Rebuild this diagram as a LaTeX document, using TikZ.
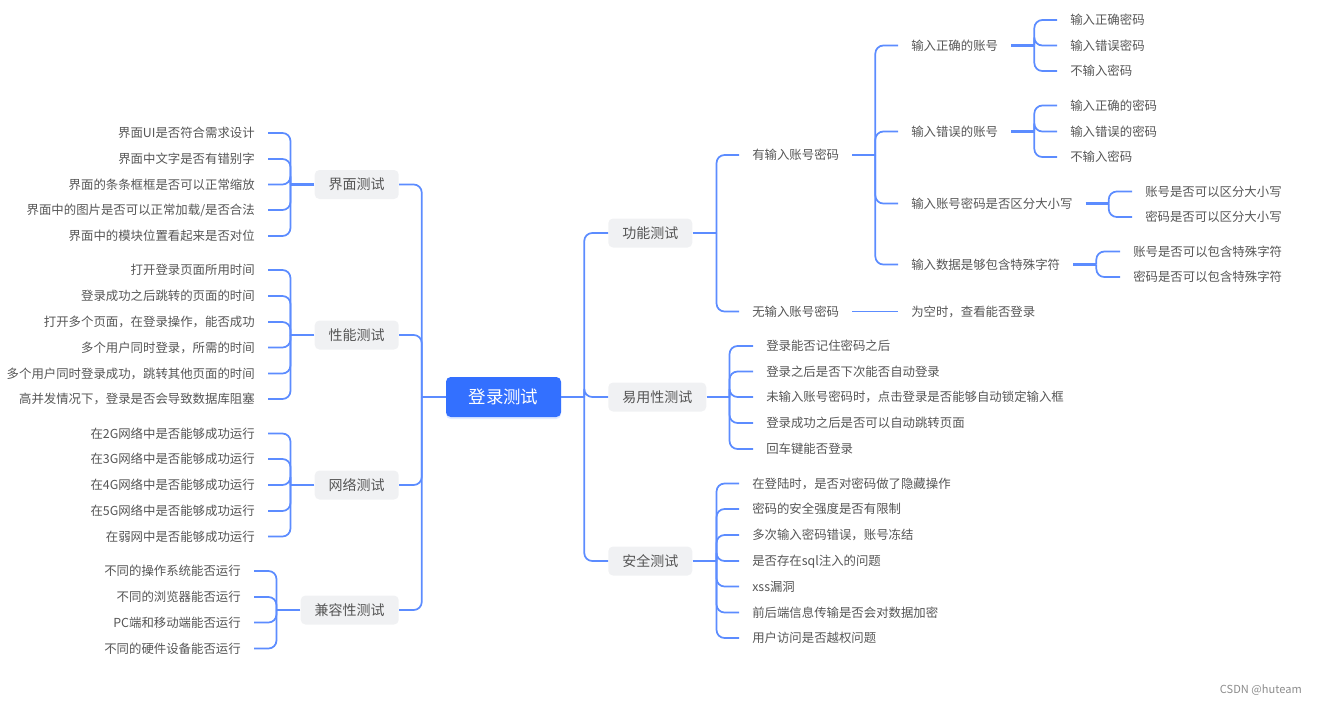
\documentclass[tikz,border=0pt]{standalone}
\usepackage{fontspec}
\setmainfont{Noto Sans CJK SC}
\usetikzlibrary{shadows}
\definecolor{line_blue}{HTML}{5C8CFF}
\definecolor{root_blue}{HTML}{3370FF}
\definecolor{topic_gray}{HTML}{F0F1F3}
\definecolor{text_gray}{HTML}{555555}
\tikzset{
        treenode/.style={align=center,text=text_gray,font=\fontsize{9.3pt}{11pt}\selectfont,text height=8.2pt,text depth=1.1pt,inner ysep=1pt},
        % Centre node
        node_root/.style={treenode, rectangle, rounded corners=3.5pt, fill=root_blue, text=white, font=\fontsize{13.1pt}{15pt}\selectfont, text height=11.5pt, text depth=1.6pt, minimum width=86.25pt, minimum height=30pt, drop shadow={shadow xshift=0pt, shadow yshift=-1.5pt, fill=root_blue, opacity=0.15}},
        % Gray topic nodes
        node_topic/.style={treenode, rectangle, rounded corners=3.5pt, fill=topic_gray, font=\fontsize{10.5pt}{13pt}\selectfont, text height=9.2pt, text depth=1.3pt, inner xsep=10.5pt, minimum height=21.75pt},
        % Plain text nodes, the gap is the space a connector stops short of the text
        node_left/.style={treenode, anchor=east, inner xsep=9.75pt},
        node_right/.style={treenode, anchor=west, inner xsep=9.75pt},
        branch/.style={line_blue, line width=1.3pt, rounded corners=6pt},
        stem/.style={line_blue, line width=1.7pt}
}
\newcommand{\branchright}[3]{
        \draw[stem] (#1.east) -- ++(#2,0) coordinate (#1_t);
        \foreach \c in {#3} \draw[branch] (#1_t) |- (\c.west);
}
\newcommand{\branchleft}[3]{
        \draw[stem] (#1.west) -- ++(-#2,0) coordinate (#1_t);
        \foreach \c in {#3} \draw[branch] (#1_t) |- (\c.east);
}
\begin{document}
\begin{tikzpicture}[x=0.75pt,y=-0.75pt]
            \useasboundingbox (0,0) rectangle (1317,704);
            \node[node_root] (root) at (503.5,397) {登录测试};

            % Left side
            \node[node_topic, anchor=east] (ui) at (399,184.5) {界面测试};
            \node[node_topic, anchor=east] (perf) at (399,335) {性能测试};
            \node[node_topic, anchor=east] (net) at (399,485) {网络测试};
            \node[node_topic, anchor=east] (compat) at (399,610) {兼容性测试};

            \foreach \n/\y/\t in {
                ui_a/133/界面UI是否符合需求设计,
                ui_b/159/界面中文字是否有错别字,
                ui_c/184.5/界面的条条框框是否可以正常缩放,
                ui_d/210/{界面中的图片是否可以正常加载/是否合法},
                ui_e/236/界面中的模块位置看起来是否对位,
                perf_a/270/打开登录页面所用时间,
                perf_b/296/登录成功之后跳转的页面的时间,
                perf_c/322/打开多个页面，在登录操作，能否成功,
                perf_d/347.5/多个用户同时登录，所需的时间,
                perf_e/373.5/多个用户同时登录成功，跳转其他页面的时间,
                perf_f/399/高并发情况下，登录是否会导致数据库阻塞,
                net_a/433.5/在2G网络中是否能够成功运行,
                net_b/459/在3G网络中是否能够成功运行,
                net_c/485/在4G网络中是否能够成功运行,
                net_d/511/在5G网络中是否能够成功运行,
                net_e/536.5/在弱网中是否能够成功运行}
                \node[node_left] (\n) at (268,\y) {\t};
            \foreach \n/\y/\t in {
                compat_a/571/不同的操作系统能否运行,
                compat_b/597/不同的浏览器能否运行,
                compat_c/622.5/PC端和移动端能否运行,
                compat_d/648.5/不同的硬件设备能否运行}
                \node[node_left] (\n) at (254,\y) {\t};

            % Right side
            \node[node_topic, anchor=west] (func) at (608,233) {功能测试};
            \node[node_topic, anchor=west] (easy) at (608,397) {易用性测试};
            \node[node_topic, anchor=west] (safe) at (608,561) {安全测试};

            \node[node_right] (has) at (739,155) {有输入账号密码};
            \node[node_right] (none) at (739,311.5) {无输入账号密码};
            \node[node_right] (empty) at (898,311.5) {为空时，查看能否登录};

            \node[node_right] (good) at (898,45.5) {输入正确的账号};
            \node[node_right] (bad) at (898,131.5) {输入错误的账号};
            \node[node_right] (casing) at (898,203.5) {输入账号密码是否区分大小写};
            \node[node_right] (special) at (898,264.5) {输入数据是够包含特殊字符};

            \foreach \n/\y/\t in {
                good_a/20/输入正确密码,
                good_b/45.5/输入错误密码,
                good_c/71/不输入密码,
                bad_a/105.5/输入正确的密码,
                bad_b/131.5/输入错误的密码,
                bad_c/157/不输入密码}
                \node[node_right] (\n) at (1057,\y) {\t};
            \foreach \n/\y/\t in {
                casing_a/191.5/账号是否可以区分大小写,
                casing_b/217/密码是否可以区分大小写}
                \node[node_right] (\n) at (1132,\y) {\t};
            \foreach \n/\y/\t in {
                special_a/251.5/账号是否可以包含特殊字符,
                special_b/277/密码是否可以包含特殊字符}
                \node[node_right] (\n) at (1120,\y) {\t};
            \foreach \n/\y/\t in {
                easy_a/346/登录能否记住密码之后,
                easy_b/371.5/登录之后是否下次能否自动登录,
                easy_c/397/未输入账号密码时，点击登录是否能够自动锁定输入框,
                easy_d/423/登录成功之后是否可以自动跳转页面,
                easy_e/449/回车键能否登录}
                \node[node_right] (\n) at (753,\y) {\t};
            \foreach \n/\y/\t in {
                safe_a/483.5/在登陆时，是否对密码做了隐藏操作,
                safe_b/509/密码的安全强度是否有限制,
                safe_c/535/多次输入密码错误，账号冻结,
                safe_d/561/是否存在sql注入的问题,
                safe_e/586.5/xss漏洞,
                safe_f/612.5/前后端信息传输是否会对数据加密,
                safe_g/638/用户访问是否越权问题}
                \node[node_right] (\n) at (739,\y) {\t};

            \node[text=black!45, font=\fontsize{8.3pt}{10pt}\selectfont, anchor=east, inner sep=0pt] (mark) at (1302,690) {CSDN @huteam};

            % Connectors
            \branchleft{root}{24}{ui,perf,net,compat}
            \branchright{root}{23}{func,easy,safe}
            \branchleft{ui}{24}{ui_a,ui_b,ui_c,ui_d,ui_e}
            \branchleft{perf}{24}{perf_a,perf_b,perf_c,perf_d,perf_e,perf_f}
            \branchleft{net}{24}{net_a,net_b,net_c,net_d,net_e}
            \branchleft{compat}{24}{compat_a,compat_b,compat_c,compat_d}
            \branchright{func}{24}{has,none}
            \branchright{easy}{23}{easy_a,easy_b,easy_c,easy_d,easy_e}
            \branchright{safe}{24}{safe_a,safe_b,safe_c,safe_d,safe_e,safe_f,safe_g}
            \branchright{has}{23}{good,bad,casing,special}
            \draw[branch] (none.east) -- (empty.west);
            \branchright{good}{23}{good_a,good_b,good_c}
            \branchright{bad}{23}{bad_a,bad_b,bad_c}
            \branchright{casing}{23}{casing_a,casing_b}
            \branchright{special}{23}{special_a,special_b}
\end{tikzpicture}
\end{document}
